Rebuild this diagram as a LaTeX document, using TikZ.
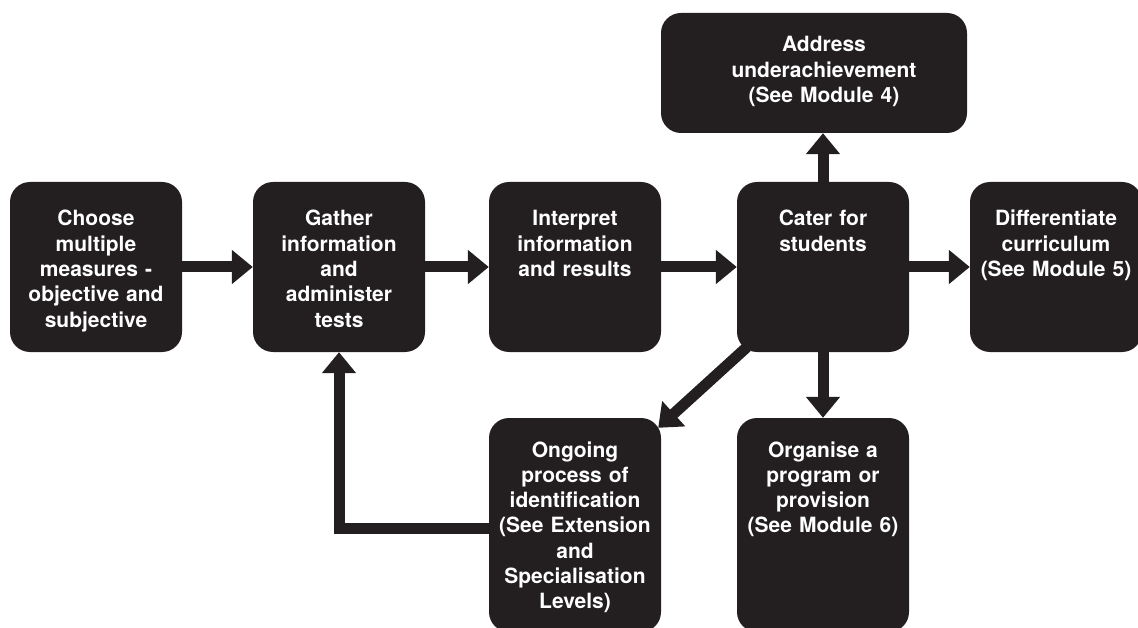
\documentclass[tikz,border=0pt]{standalone}
\usepackage{fontspec}
\setmainfont{TeX Gyre Heros}
\usetikzlibrary{arrows.meta,calc}
\definecolor{boxblack}{HTML}{231F20}
\begin{document}
\begin{tikzpicture}[x=1pt,y=-1pt,
  box/.style={fill=boxblack, draw=none, rounded corners=20pt, minimum width=172pt, minimum height=170pt, inner sep=0pt},
  tallbox/.style={box, minimum height=214pt},
  widebox/.style={box, minimum width=306pt, minimum height=120pt},
  boxtext/.style={text=white, font=\bfseries\fontsize{21}{25.3}\selectfont, text width=230pt, align=center, anchor=base, inner sep=0pt},
  flow/.style={draw=boxblack, line width=11pt, -{Triangle[length=21pt,width=33pt]}}
]
\useasboundingbox (0,0) rectangle (1138,628);
\clip (0,0) rectangle (1138,628);
% boxes
\node[box] (choose) at (96,267) {};
\node[box] (gather) at (339,267) {};
\node[box] (interp) at (575,267) {};
\node[box] (cater) at (823,267) {};
\node[box] (diff) at (1056,267) {};
\node[widebox] (addr) at (814,73) {};
\node[tallbox] (ongoing) at (575,525) {};
\node[tallbox] (organise) at (823,525) {};
% connectors
\coordinate (dstart) at ([shift={(10,-5)}]cater.south west);
\coordinate (dend) at ([shift={(-3,10)}]ongoing.north east);
\draw[flow] (choose) -- (gather);
\draw[flow] (gather) -- (interp);
\draw[flow] (interp) -- (cater);
\draw[flow] (cater) -- (diff);
\draw[flow] (cater.north) -- (cater.north |- addr.south);
\draw[flow] (cater.south) -- (organise.north);
\draw[flow] (dstart) -- (dend);
\draw[flow] ([yshift=-3pt]ongoing.west) -| (gather.south);
% texts
\node[boxtext] (chooset) at (96,226) {Choose\\multiple\\measures -\\objective and\\subjective};
\node[boxtext] (gathert) at (339,226) {Gather\\information\\and\\administer\\tests};
\node[boxtext] (interpt) at (575,226) {Interpret\\information\\and results};
\node[boxtext] (catert) at (823,226) {Cater for\\students};
\node[boxtext] (difft) at (1056,226) {Differentiate\\curriculum\\(See Module 5)};
\node[boxtext] (addrt) at (824,52) {Address\\underachievement\\(See Module 4)};
\node[boxtext] (ongoingt) at (575,457) {Ongoing\\process of\\identification\\(See Extension\\and\\Specialisation\\Levels)};
\node[boxtext] (organiset) at (823,457) {Organise a\\program or\\provision\\(See Module 6)};
\end{tikzpicture}
\end{document}
